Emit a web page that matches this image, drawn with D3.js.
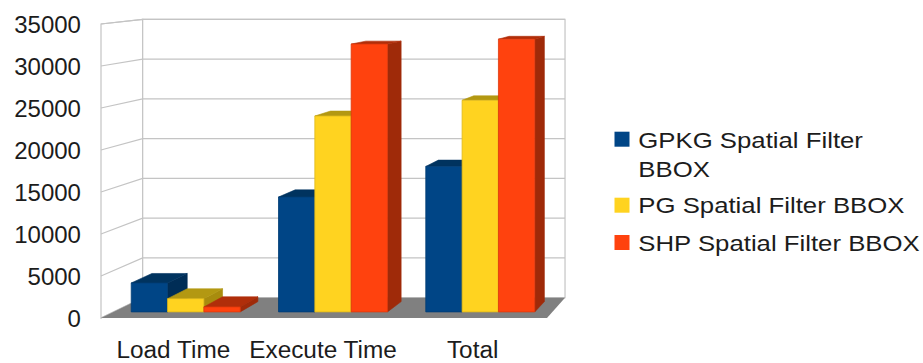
<!DOCTYPE html>
<html>
<head>
<meta charset="utf-8">
<script src="https://cdn.jsdelivr.net/npm/d3@7"></script>
<style>
  html, body { margin: 0; padding: 0; background: #fff; }
  svg { display: block; }
  text { font-family: "Liberation Sans", Arial, sans-serif; fill: #1c1c1c; }
</style>
</head>
<body>
<svg id="chart" width="923" height="363"></svg>
<script>
// ---- data ----
const categories = ["Load Time", "Execute Time", "Total"];
const seriesNames = ["GPKG Spatial Filter BBOX", "PG Spatial Filter BBOX", "SHP Spatial Filter BBOX"];
const gpkgValues = [3500, 13900, 17600];
const pgValues = [1600, 23700, 25600];
const shpValues = [600, 32400, 33000];
const yTicks = [0, 5000, 10000, 15000, 20000, 25000, 30000, 35000];

const seriesValues = [gpkgValues, pgValues, shpValues];
const faceColors = [
  { front: "#004586", top: "#00335f", side: "#002d56" },
  { front: "#ffd320", top: "#b39812", side: "#a88c0e" },
  { front: "#ff420e", top: "#b02e0a", side: "#9f2a09" }
];

const svg = d3.select("#chart");

// ---- front plane scales ----
const x = d3.scaleBand().domain(categories).range([101, 547])
  .paddingInner(0.26).paddingOuter(0.12);
const xs = d3.scaleBand().domain(d3.range(seriesNames.length))
  .range([0, x.bandwidth()]).padding(0);
const y = d3.scaleLinear().domain([0, 35000]).range([318, 24]);

// ---- simple perspective: depth 0 = front plane, 1 = back wall ----
const VX = 887, VY = -64, K = 0.056;
function project(px, py, z) {
  const s = 1 / (1 + K * z);
  return [VX + s * (px - VX), VY + s * (py - VY)];
}
const poly = pts => "M" + pts.map(p => p.join(",")).join("L") + "Z";

const xMin = 101, xMax = 547;
const gridColor = "#c4c4c4";

// left side wall
svg.append("path")
  .attr("d", poly([project(xMin, y(0), 0), project(xMin, y(35000), 0),
                   project(xMin, y(35000), 1), project(xMin, y(0), 1)]))
  .attr("fill", "#fff").attr("stroke", gridColor).attr("stroke-width", 1.2);

// back wall
svg.append("path")
  .attr("d", poly([project(xMin, y(0), 1), project(xMin, y(35000), 1),
                   project(xMax, y(35000), 1), project(xMax, y(0), 1)]))
  .attr("fill", "#fff").attr("stroke", gridColor).attr("stroke-width", 1.2);

// grid lines on both walls
yTicks.forEach(v => {
  const a = project(xMin, y(v), 0), b = project(xMin, y(v), 1), c = project(xMax, y(v), 1);
  svg.append("path")
    .attr("d", `M${a}L${b}L${c}`)
    .attr("fill", "none").attr("stroke", gridColor).attr("stroke-width", 1.2);
});

// floor
svg.append("path")
  .attr("d", poly([project(xMin, y(0), 0), project(xMax, y(0), 0),
                   project(xMax, y(0), 1), project(xMin, y(0), 1)]))
  .attr("fill", "#808080");

// ---- bars (left to right so each bar hides its neighbour's side face) ----
const zF = 0.29, zB = 0.80;
categories.forEach((cat, ci) => {
  seriesNames.forEach((name, si) => {
    const v = seriesValues[si][ci];
    const x0 = x(cat) + xs(si), x1 = x0 + xs.bandwidth();
    const yb = y(0), yt = y(v);
    const col = faceColors[si];
    const g = svg.append("g").attr("stroke-linejoin", "round");
    // right side face
    g.append("path")
      .attr("d", poly([project(x1, yb, zF), project(x1, yt, zF), project(x1, yt, zB), project(x1, yb, zB)]))
      .attr("fill", col.side).attr("stroke", col.side).attr("stroke-width", 0.6);
    // top face
    g.append("path")
      .attr("d", poly([project(x0, yt, zF), project(x1, yt, zF), project(x1, yt, zB), project(x0, yt, zB)]))
      .attr("fill", col.top).attr("stroke", col.top).attr("stroke-width", 0.6);
    // front face
    g.append("path")
      .attr("d", poly([project(x0, yb, zF), project(x1, yb, zF), project(x1, yt, zF), project(x0, yt, zF)]))
      .attr("fill", col.front).attr("stroke", d3.color(col.front).darker(0.4)).attr("stroke-width", 0.8);
  });
});

// ---- value axis labels ----
const axisScaleX = 1.045;
yTicks.forEach(v => {
  svg.append("text")
    .attr("transform", `translate(81,${y(v) + 1.2}) scale(${axisScaleX},1)`)
    .attr("text-anchor", "end")
    .attr("dominant-baseline", "central")
    .style("font-size", "23px")
    .text(d3.format("d")(v));
});

// ---- category labels ----
const catScaleX = 1.06;
categories.forEach(cat => {
  svg.append("text")
    .attr("transform", `translate(${x(cat) + x.bandwidth() / 2 - 1},358) scale(${catScaleX},1)`)
    .attr("text-anchor", "middle")
    .style("font-size", "23px")
    .text(cat);
});

// ---- legend ----
const legendScaleX = 1.12;
const legendRows = [
  { lines: ["GPKG Spatial Filter", "BBOX"], box: 131.7, base: 148.3 },
  { lines: ["PG Spatial Filter BBOX"], box: 197.7, base: 213.3 },
  { lines: ["SHP Spatial Filter BBOX"], box: 235, base: 250.7 }
];
legendRows.forEach((row, i) => {
  svg.append("rect")
    .attr("x", 614.5).attr("y", row.box).attr("width", 15).attr("height", 15)
    .attr("fill", faceColors[i].front);
  const t = svg.append("text")
    .attr("transform", `translate(638.3,${row.base}) scale(${legendScaleX},1)`)
    .style("font-size", "23px");
  row.lines.forEach((ln, li) => {
    t.append("tspan").attr("x", 0).attr("dy", li === 0 ? 0 : 29).text(ln);
  });
});
</script>
</body>
</html>
